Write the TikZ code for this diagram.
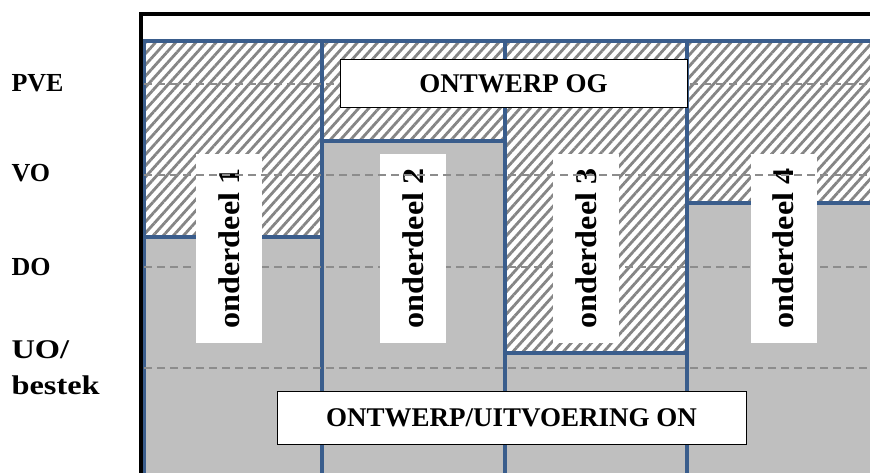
\documentclass[tikz,border=0pt]{standalone}
\usepackage{fontspec}
\setmainfont{Liberation Serif}
\newfontfamily\breedfont[FakeStretch=1.2]{Liberation Serif}
\newfontfamily\onderdeelfont[FakeStretch=1.07]{Liberation Serif}
\usetikzlibrary{patterns.meta}
\definecolor{fasegrijs}{HTML}{BFBFBF}
\definecolor{fasekader}{HTML}{3A5D8C}
\definecolor{streepgrijs}{HTML}{858585}
\definecolor{lijngrijs}{HTML}{8C8C8C}
\tikzset{
	ontwerp/.style={pattern={Lines[angle=48,distance=7.5pt,line width=2.8pt]}, pattern color=streepgrijs},
	uitvoering/.style={fill=fasegrijs},
	kader/.style={draw=fasekader, line width=4.8pt},
	faselijn/.style={draw=lijngrijs, line width=1.6pt, dash pattern=on 8pt off 5pt},
	fasenaam/.style={anchor=west, align=left, font=\fontsize{26}{36}\selectfont\bfseries},
	onderdeel/.style={fill=white, rotate=90, minimum width=189pt, minimum height=66pt, inner sep=0pt, font=\onderdeelfont\fontsize{30}{32}\selectfont\bfseries},
	balk/.style={draw=black, fill=white, line width=1pt, inner sep=0pt, font=\fontsize{27}{30}\selectfont\bfseries}
}

\begin{document}
\begin{tikzpicture}[x=1pt, y=-1pt]
		%%%%% START %%%%%
		\useasboundingbox (0, 0) rectangle (870, 473);
		\fill[white] (0, 0) rectangle (870, 473);
		
		\begin{scope}
		\clip (0, 0) rectangle (870, 473);
		
		% ontwerp (gearceerd)
		\path[ontwerp] (144, 41) rectangle (322, 237);
		\path[ontwerp] (322, 41) rectangle (505, 141);
		\path[ontwerp] (505, 41) rectangle (687, 353);
		\path[ontwerp] (687, 41) rectangle (890, 203);
		
		% uitvoering (grijs)
		\path[uitvoering] (144, 237) rectangle (322, 490);
		\path[uitvoering] (322, 141) rectangle (505, 490);
		\path[uitvoering] (505, 353) rectangle (687, 490);
		\path[uitvoering] (687, 203) rectangle (890, 490);
		
		% kaders
		\draw[kader] (144, 41) rectangle (322, 237);
		\draw[kader] (322, 41) rectangle (505, 141);
		\draw[kader] (505, 41) rectangle (687, 353);
		\draw[kader] (687, 41) rectangle (890, 203);
		\draw[kader] (144, 237) rectangle (322, 490);
		\draw[kader] (322, 141) rectangle (505, 490);
		\draw[kader] (505, 353) rectangle (687, 490);
		\draw[kader] (687, 203) rectangle (890, 490);
		
		% fasegrenzen
		\draw[faselijn] (144, 84) -- (870, 84);
		\draw[faselijn] (144, 267) -- (870, 267);
		\draw[faselijn] (144, 368) -- (870, 368);
		
		\node[onderdeel] (od1) at (229, 248.5) {onderdeel 1};
		\node[onderdeel] (od2) at (413, 248.5) {onderdeel 2};
		\node[onderdeel] (od3) at (586, 248.5) {onderdeel 3};
		\node[onderdeel] (od4) at (783.5, 248.5) {onderdeel 4};
		
		\draw[faselijn] (144, 175) -- (870, 175);
		
		\node[balk, minimum width=347pt, minimum height=48pt] (og) at (513.5, 84) {ONTWERP OG};
		\node[balk, minimum width=469pt, minimum height=53pt] (on) at (511.5, 417.5) {ONTWERP/UITVOERING ON};
		\end{scope}
		
		% kader as
		\draw[line width=3.5pt] (141, 475) -- (141, 14) -- (872, 14);
		
		\node[fasenaam] (pve) at (8, 83) {PVE};
		\node[fasenaam] (vo) at (8, 173) {VO};
		\node[fasenaam] (do) at (8, 267) {DO};
		\node[fasenaam, font=\breedfont\fontsize{27}{36}\selectfont\bfseries] (uo) at (8, 368) {UO/\\bestek};
		
		%%%%% END %%%%%
	\end{tikzpicture}
\end{document}
